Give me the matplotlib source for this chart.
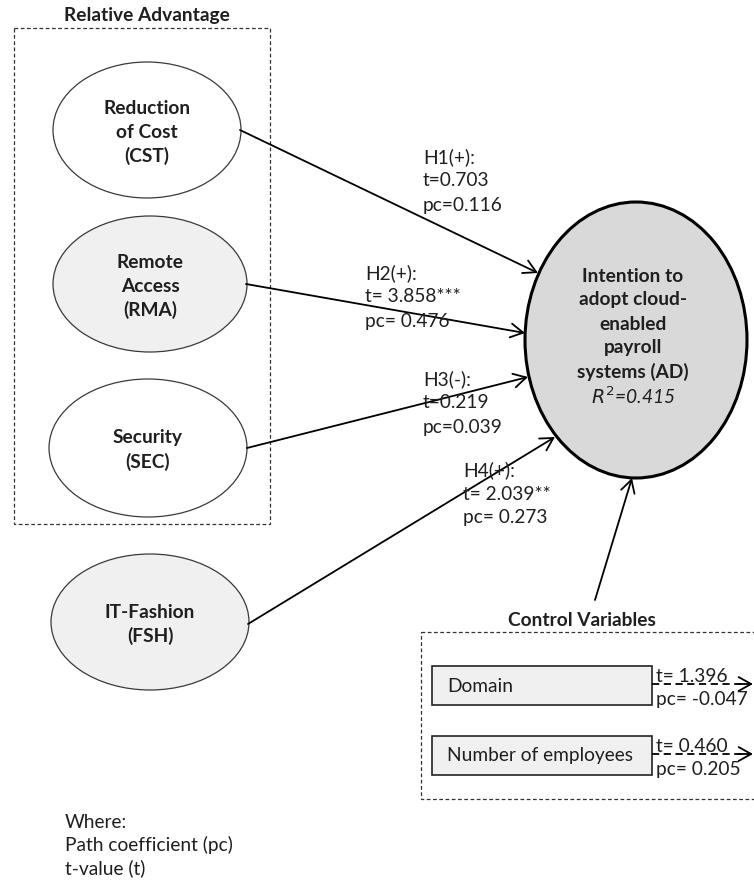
import matplotlib
matplotlib.use("Agg")
import matplotlib.pyplot as plt
from matplotlib.patches import Ellipse, Rectangle, FancyArrowPatch

plt.rcParams['font.family'] = ['Lato', 'DejaVu Sans']

# ---------------- data ----------------
constructs = ["Reduction\nof Cost\n(CST)", "Remote\nAccess\n(RMA)", "Security\n(SEC)", "IT-Fashion\n(FSH)"]
hyp_names = ["H1(+):", "H2(+):", "H3(-):", "H4(+):"]
hyp_t = ["t=0.703", "t= 3.858***", "t=0.219", "t= 2.039**"]
hyp_pc = ["pc=0.116", "pc= 0.476", "pc=0.039", "pc= 0.273"]
target_lines = ["Intention to", "adopt cloud-", "enabled", "payroll", "systems (AD)"]
r_squared = "0.415"
controls = ["Domain", "Number of employees"]
control_t = ["t= 1.396", "t= 0.460"]
control_pc = ["pc= -0.047", "pc= 0.205"]
legend_lines = ["Where:", "Path coefficient (pc)", "t-value (t)"]

# ---------------- layout (pixel coordinates) ----------------
W, H = 754, 881
fig = plt.figure(figsize=(W / 100, H / 100), dpi=100)
ax = fig.add_axes([0, 0, 1, 1])
ax.set_xlim(0, W)
ax.set_ylim(H, 0)
ax.axis('off')

FS = 13.8
LS = 24  # line spacing px
TXT = '#1f1f1f'

ell_centers = [(147, 130), (150, 284), (148, 448), (150, 622)]
ell_sizes = [(188, 136), (194, 136), (198, 138), (198, 136)]
ell_fills = ["white", "#f0f0f0", "white", "#f0f0f0"]
arrow_starts = [(240, 130), (246, 284), (247, 448), (248, 624)]
arrow_ends = [(538, 273), (525, 333), (528, 377), (555, 437)]
label_pos = [(423, 157), (365, 273), (423, 379), (463, 470)]


def draw_lines(x, y0, lines, ha='left', weight='normal', style='normal', dy=LS):
    for i, ln in enumerate(lines):
        ax.text(x, y0 + i * dy, ln, ha=ha, va='center', fontsize=FS,
                fontweight=weight, fontstyle=style, color=TXT, zorder=6)


def arrow(p0, p1, lw=1.3):
    ax.add_patch(FancyArrowPatch(p0, p1, arrowstyle='->,head_length=9,head_width=5',
                                 mutation_scale=1, lw=lw, color='black',
                                 shrinkA=0, shrinkB=0, zorder=4))


# Relative advantage group box
ax.add_patch(Rectangle((14, 28), 256, 496, fill=False, ls=(0, (3, 2)), lw=0.9,
                       edgecolor='#333333', zorder=1))
ax.text(147, 15, "Relative Advantage", ha='center', va='center', fontsize=FS,
        fontweight='bold', color=TXT)

# exogenous constructs
for (cx, cy), (w, h), fc, lab in zip(ell_centers, ell_sizes, ell_fills, constructs):
    ax.add_patch(Ellipse((cx, cy), w, h, facecolor=fc, edgecolor='#3a3a3a', lw=0.9, zorder=3))
    lines = lab.split("\n")
    n = len(lines)
    draw_lines(cx, cy - (n - 1) * LS / 2 + 2, lines, ha='center', weight='bold')

# target construct
ax.add_patch(Ellipse((636, 340), 222, 276, facecolor='#d9d9d9', edgecolor='black', lw=2.2, zorder=3))
draw_lines(633, 276, target_lines, ha='center', weight='bold')
ax.text(633, 276 + 5 * LS, r"$R^2$=" + r_squared, ha='center', va='center', fontsize=FS,
        fontstyle='italic', color=TXT, zorder=6)

# hypotheses arrows and labels
for p0, p1, (lx, ly), hn, t, pc in zip(arrow_starts, arrow_ends, label_pos, hyp_names, hyp_t, hyp_pc):
    arrow(p0, p1)
    draw_lines(lx, ly, [hn, t, pc])

# control variables
arrow((595, 600), (632, 478))
ax.add_patch(Rectangle((421, 632), 340, 167, fill=False, ls=(0, (3, 2)), lw=0.9,
                       edgecolor='#333333', zorder=1))
ax.text(582, 620, "Control Variables", ha='center', va='center', fontsize=FS,
        fontweight='bold', color=TXT)

box_y = [666, 736]
for by, name, t, pc in zip(box_y, controls, control_t, control_pc):
    ax.add_patch(Rectangle((432, by), 220, 39, facecolor='#f0f0f0', edgecolor='#222222', lw=1.2, zorder=3))
    ax.text(447, by + 20, name, ha='left', va='center', fontsize=FS, color=TXT, zorder=6)
    ya = by + 18
    ax.plot([652, 742], [ya, ya], ls=(0, (4, 2.5)), lw=1.3, color='black', zorder=4)
    arrow((738, ya), (753, ya))
    ax.text(656, by + 10, t, ha='left', va='center', fontsize=FS, color=TXT, zorder=6)
    ax.text(656, by + 34, pc, ha='left', va='center', fontsize=FS, color=TXT, zorder=6)

# legend text
draw_lines(65, 822, legend_lines, dy=23)

fig.savefig("out.png", dpi=100)
